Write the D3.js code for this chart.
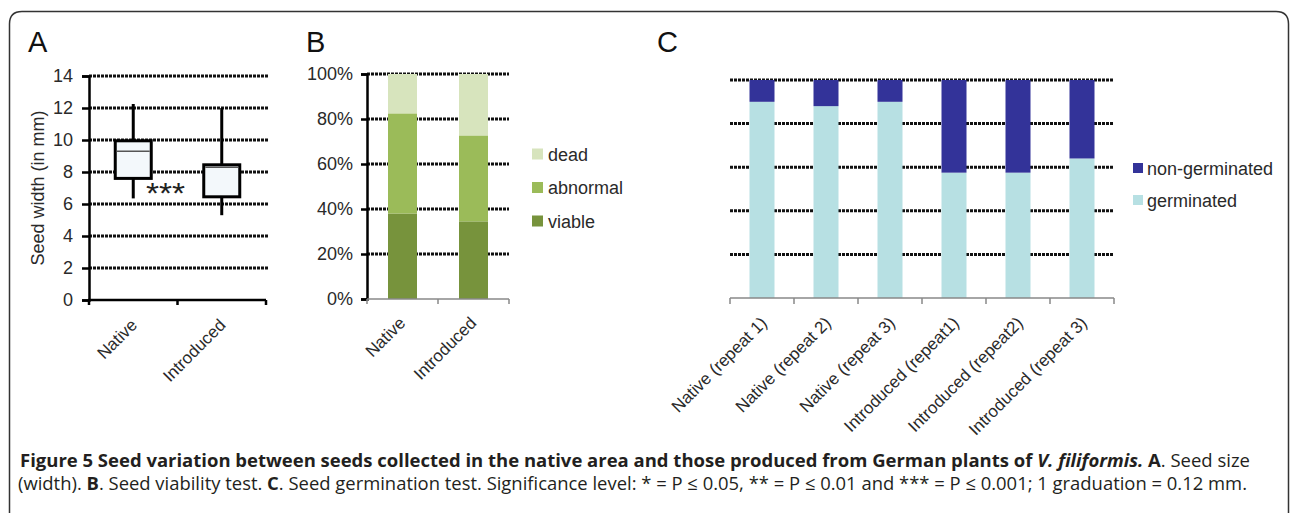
<!DOCTYPE html>
<html>
<head>
<meta charset="utf-8">
<script src="https://cdn.jsdelivr.net/npm/d3@7"></script>
<style>
  body { margin: 0; background: #fff; }
  svg { display: block; }
  text { font-family: "Liberation Sans", Arial, sans-serif; }
</style>
</head>
<body>
<div class="graph"></div>
<script>
// panel A - seed width box plots
const groupsA = ["Native", "Introduced"];
const whiskerLow = [6.35, 5.3];
const q1 = [7.6, 6.45];
const median = [9.3, 8.3];
const q3 = [9.95, 8.45];
const whiskerHigh = [12.25, 12.0];
const ticksA = [0, 2, 4, 6, 8, 10, 12, 14];

// panel B - viability
const groupsB = ["Native", "Introduced"];
const viable = [38, 34.5];
const abnormal = [44.5, 38.2];
const dead = [17.5, 27.3];
const ticksB = [0, 20, 40, 60, 80, 100];

// panel C - germination
const groupsC = ["Native (repeat  1)", "Native (repeat 2)", "Native (repeat 3)",
  "Introduced (repeat1)", "Introduced (repeat2)", "Introduced (repeat 3)"];
const germinated = [90, 88, 90, 57.5, 57.5, 64];
const nonGerminated = [10, 12, 10, 42.5, 42.5, 36];
const ticksC = [0, 20, 40, 60, 80, 100];

const W = 1290, H = 513;
const svg = d3.select(".graph").append("svg")
  .attr("width", W).attr("height", H);

// frame
svg.append("path")
  .attr("d", "M9.5,520 L9.5,24 Q9.5,11.5 22,11.5 L1276,11.5 Q1288.5,11.5 1288.5,24 L1288.5,520")
  .attr("fill", "none").attr("stroke", "#333").attr("stroke-width", 1.5);

function gridLines(g, y, vals, x0, x1) {
  g.selectAll(".grid").data(vals).enter().append("line")
    .attr("x1", x0).attr("x2", x1)
    .attr("y1", d => y(d)).attr("y2", d => y(d))
    .attr("stroke", "#111").attr("stroke-width", 3)
    .attr("stroke-dasharray", "3,1");
}

function rotLabels(g, x, cats, yBase, dx) {
  g.selectAll(".xl").data(cats).enter().append("text")
    .attr("transform", d => "translate(" + (x(d) + x.bandwidth() / 2 + dx) + "," + yBase + ") rotate(-45)")
    .attr("text-anchor", "end")
    .attr("font-size", 17).attr("fill", "#2a2a2a")
    .text(d => d);
}

function panelTitle(t, x) {
  svg.append("text").attr("x", x).attr("y", 52)
    .attr("font-size", 29).attr("fill", "#111").text(t);
}
panelTitle("A", 28);
panelTitle("B", 306);
panelTitle("C", 657);

// ---------- A ----------
const gA = svg.append("g");
const yA = d3.scaleLinear().domain([0, 14]).range([300, 76]);
const xA = d3.scaleBand().domain(groupsA).range([89, 266]);

gridLines(gA, yA, ticksA.slice(1), 89, 268);

const yAxisA = gA.append("g").attr("transform", "translate(89,0)")
  .call(d3.axisLeft(yA).tickValues(ticksA).tickSize(7).tickPadding(9));
yAxisA.selectAll("text").attr("font-size", 18).attr("fill", "#2a2a2a")
  .attr("font-family", "Liberation Sans, Arial, sans-serif");
yAxisA.selectAll("line, path").attr("stroke", "#000").attr("stroke-width", 2.5);

gA.append("line").attr("x1", 88).attr("x2", 266).attr("y1", 300).attr("y2", 300)
  .attr("stroke", "#000").attr("stroke-width", 2.5);
gA.selectAll(".tk").data([0, 1, 2]).enter().append("line")
  .attr("x1", d => xA.range()[0] + d * xA.step()).attr("x2", d => xA.range()[0] + d * xA.step())
  .attr("y1", 300).attr("y2", 305).attr("stroke", "#000").attr("stroke-width", 2.5);

gA.append("text").attr("transform", "translate(44," + yA(7) + ") rotate(-90)")
  .attr("text-anchor", "middle").attr("font-size", 18).attr("fill", "#2a2a2a")
  .text("Seed width (in mm)");

const boxW = 36;
groupsA.forEach((gname, i) => {
  const cx = xA(gname) + xA.bandwidth() / 2;
  gA.append("line").attr("x1", cx).attr("x2", cx)
    .attr("y1", yA(whiskerHigh[i])).attr("y2", yA(whiskerLow[i]))
    .attr("stroke", "#000").attr("stroke-width", 3);
  gA.append("rect").attr("x", cx - boxW / 2).attr("width", boxW)
    .attr("y", yA(q3[i])).attr("height", yA(q1[i]) - yA(q3[i]))
    .attr("fill", "#f3f8fb").attr("stroke", "#000").attr("stroke-width", 3);
  gA.append("line").attr("x1", cx - boxW / 2 + 1.5).attr("x2", cx + boxW / 2 - 1.5)
    .attr("y1", yA(median[i])).attr("y2", yA(median[i]))
    .attr("stroke", "#555").attr("stroke-width", 1.5);
});

gA.append("text").attr("x", 146).attr("y", 203)
  .attr("font-size", 30).attr("fill", "#222")
  .attr("textLength", 39).attr("lengthAdjust", "spacingAndGlyphs")
  .text("***");

rotLabels(gA, xA, groupsA, 326, 5);

// ---------- B ----------
const gB = svg.append("g");
const yB = d3.scaleLinear().domain([0, 100]).range([299, 74]);
const xB = d3.scaleBand().domain(groupsB).range([367, 509]).paddingInner(0).paddingOuter(0);

gridLines(gB, yB, ticksB.slice(1), 367, 509);

const seriesB = [
  { name: "viable", vals: viable, color: "#77933c" },
  { name: "abnormal", vals: abnormal, color: "#9bbb59" },
  { name: "dead", vals: dead, color: "#d7e4bd" }
];
const barWB = 29;
groupsB.forEach((gname, i) => {
  let acc = 0;
  seriesB.forEach(s => {
    const v = s.vals[i];
    gB.append("rect")
      .attr("x", xB(gname) + xB.bandwidth() / 2 - barWB / 2).attr("width", barWB)
      .attr("y", yB(acc + v)).attr("height", yB(acc) - yB(acc + v))
      .attr("fill", s.color);
    acc += v;
  });
});

const yAxisB = gB.append("g").attr("transform", "translate(367,0)")
  .call(d3.axisLeft(yB).tickValues(ticksB).tickFormat(d => d + "%").tickSize(6).tickPadding(8));
yAxisB.selectAll("text").attr("font-size", 18).attr("fill", "#2a2a2a")
  .attr("font-family", "Liberation Sans, Arial, sans-serif");
yAxisB.selectAll("line, path").attr("stroke", "#000").attr("stroke-width", 2.5);

gB.append("line").attr("x1", 367).attr("x2", 509).attr("y1", 299).attr("y2", 299)
  .attr("stroke", "#888").attr("stroke-width", 1.5);
gB.selectAll(".tk").data([0, 1, 2]).enter().append("line")
  .attr("x1", d => 367 + d * xB.step()).attr("x2", d => 367 + d * xB.step())
  .attr("y1", 299).attr("y2", 304).attr("stroke", "#888").attr("stroke-width", 1.5);

rotLabels(gB, xB, groupsB, 324, 4);

const legB = seriesB.slice().reverse();
legB.forEach((s, i) => {
  const yy = 154 + i * 33.5;
  gB.append("rect").attr("x", 532).attr("y", yy - 5.5).attr("width", 11).attr("height", 11)
    .attr("fill", s.color);
  gB.append("text").attr("x", 548).attr("y", yy + 6.5)
    .attr("font-size", 18).attr("fill", "#2a2a2a").text(s.name);
});

// ---------- C ----------
const gC = svg.append("g");
const yC = d3.scaleLinear().domain([0, 100]).range([298, 80]);
const xC = d3.scaleBand().domain(groupsC).range([730, 1114]);

gridLines(gC, yC, ticksC.slice(1), 730, 1114);

const barWC = 25;
groupsC.forEach((gname, i) => {
  const x0 = xC(gname) + xC.bandwidth() / 2 - barWC / 2;
  gC.append("rect").attr("x", x0).attr("width", barWC)
    .attr("y", yC(germinated[i])).attr("height", yC(0) - yC(germinated[i]))
    .attr("fill", "#b7e0e3");
  gC.append("rect").attr("x", x0).attr("width", barWC)
    .attr("y", yC(germinated[i] + nonGerminated[i])).attr("height", yC(germinated[i]) - yC(germinated[i] + nonGerminated[i]))
    .attr("fill", "#333399");
});

gC.append("line").attr("x1", 730).attr("x2", 1114).attr("y1", 298).attr("y2", 298)
  .attr("stroke", "#888").attr("stroke-width", 1.5);
gC.selectAll(".tk").data(d3.range(groupsC.length + 1)).enter().append("line")
  .attr("x1", d => 730 + d * xC.step()).attr("x2", d => 730 + d * xC.step())
  .attr("y1", 298).attr("y2", 304).attr("stroke", "#888").attr("stroke-width", 1.5);

rotLabels(gC, xC, groupsC, 324, 6);

const legC = [
  { name: "non-germinated", color: "#333399" },
  { name: "germinated", color: "#b7e0e3" }
];
legC.forEach((s, i) => {
  const yy = 168 + i * 32;
  gC.append("rect").attr("x", 1133).attr("y", yy - 5).attr("width", 10).attr("height", 10)
    .attr("fill", s.color);
  gC.append("text").attr("x", 1147).attr("y", yy + 6.5)
    .attr("font-size", 18).attr("fill", "#2a2a2a").text(s.name);
});

// ---------- caption ----------
const cap = svg.append("g").attr("fill", "#231f20");
const l1 = cap.append("text").attr("x", 20).attr("y", 467).attr("font-size", 18.5)
  .style("font-family", "'Open Sans', 'Noto Sans', sans-serif")
  .attr("textLength", 1230).attr("lengthAdjust", "spacingAndGlyphs");
l1.append("tspan").attr("font-weight", "bold")
  .text("Figure 5 Seed variation between seeds collected in the native area and those produced from German plants of ");
l1.append("tspan").attr("font-weight", "bold").attr("font-style", "italic").text("V. filiformis.");
l1.append("tspan").attr("font-weight", "bold").text(" A");
l1.append("tspan").text(". Seed size");

const l2 = cap.append("text").attr("x", 18).attr("y", 490).attr("font-size", 18.5)
  .style("font-family", "'Open Sans', 'Noto Sans', sans-serif")
  .attr("textLength", 1229).attr("lengthAdjust", "spacingAndGlyphs");
l2.append("tspan").text("(width). ");
l2.append("tspan").attr("font-weight", "bold").text("B");
l2.append("tspan").text(". Seed viability test. ");
l2.append("tspan").attr("font-weight", "bold").text("C");
l2.append("tspan").text(". Seed germination test. Significance level: * = P \u2264 0.05, ** = P \u2264 0.01 and *** = P \u2264 0.001; 1 graduation = 0.12 mm.");
</script>
</body>
</html>
